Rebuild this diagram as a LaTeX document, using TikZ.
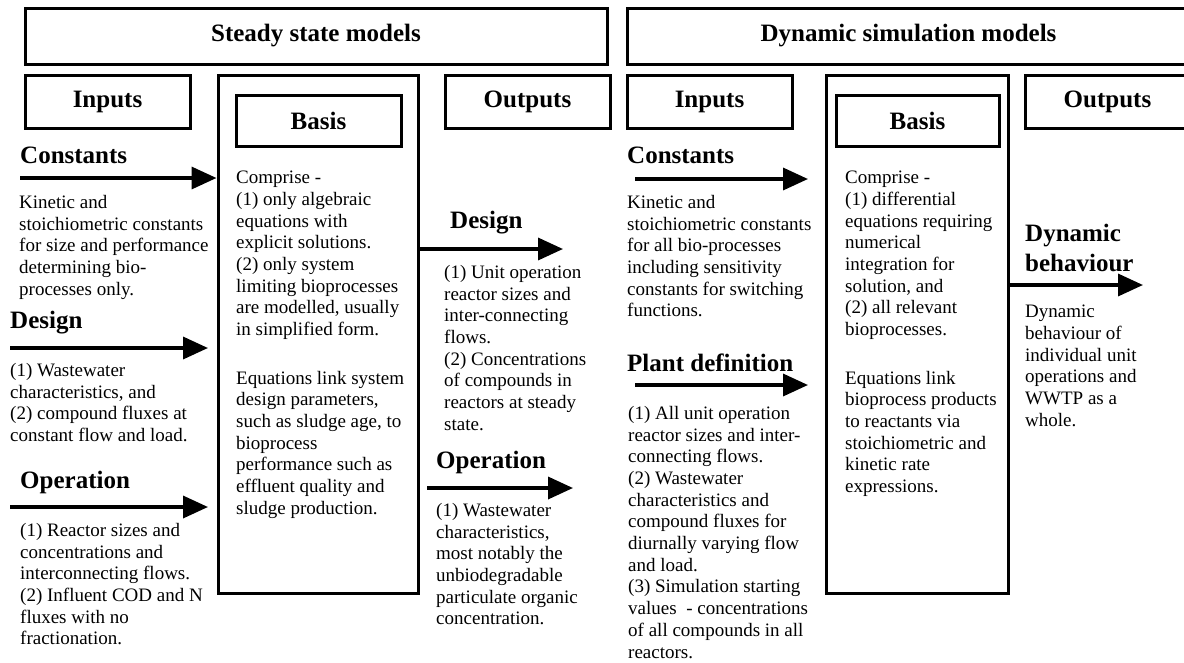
\documentclass[tikz,border=0pt]{standalone}
\usepackage{fontspec}
\setmainfont{Liberation Serif}
\usetikzlibrary{arrows.meta}
\newcommand\headfont{\fontsize{25}{30}\selectfont\bfseries}
\newcommand\bodyfont{\fontsize{19}{21.7}\selectfont}
\begin{document}
\begin{tikzpicture}[x=1pt,y=-1pt,
    box/.style={draw,line width=3pt,inner sep=0pt,font=\headfont},
    lbl/.style={anchor=west,inner sep=0pt,font=\headfont,align=left},
    txt/.style={anchor=north west,inner sep=0pt,font=\bodyfont,align=left},
    arr/.style={line width=3.5pt,-{Triangle[length=25pt,width=22pt]}}]
    \useasboundingbox (0,0) rectangle (1184,662);
    \node[box,minimum width=582,minimum height=56] (steady) at (316,36) {Steady state models};
    \node[box,minimum width=563,minimum height=56] (dynamic) at (908.5,36) {Dynamic simulation models};
    \node[box,minimum width=165,minimum height=53] (sin) at (107.5,101.5) {Inputs};
    \node[box,minimum width=200,minimum height=518] (sbasis) at (318,334) {};
    \node[box,minimum width=165,minimum height=51] (sbhead) at (318.5,120.5) {Basis};
    \node[box,minimum width=165,minimum height=53] (sout) at (527.5,101.5) {Outputs};
    \node[box,minimum width=165,minimum height=53] (din) at (709.5,101.5) {Inputs};
    \node[box,minimum width=182,minimum height=518] (dbasis) at (917,334) {};
    \node[box,minimum width=163,minimum height=51] (dbhead) at (917.5,120.5) {Basis};
    \node[box,minimum width=165,minimum height=53] (dout) at (1107.5,101.5) {Outputs};

    \node[lbl] (sconstl) at (20,155) {Constants};
    \node[txt] (sconst) at (19,195) {Kinetic and\\stoichiometric constants\\for size and performance\\determining bio-\\processes only.};
    \coordinate (sa1) at (20,178);
    \draw[arr] (sa1) -- (sa1 -| sbasis.west);
    \node[lbl] (sdesl) at (10,323) {Design};
    \node[txt] (sdes) at (10,363) {(1) Wastewater\\characteristics, and\\(2) compound fluxes at\\constant flow and load.};
    \coordinate (sa2) at (10,348);
    \coordinate (sa2e) at (208,348);
    \draw[arr] (sa2) -- (sa2e);
    \node[lbl] (sopl) at (20,482) {Operation};
    \node[txt] (sop) at (20,523) {(1) Reactor sizes and\\concentrations and\\interconnecting flows.\\(2) Influent COD and N\\fluxes with no\\fractionation.};
    \coordinate (sa3) at (10,507);
    \coordinate (sa3e) at (208,507);
    \draw[arr] (sa3) -- (sa3e);

    \node[txt] (sbtext) at (236,171) {Comprise -\\(1) only algebraic\\equations with\\explicit solutions.\\(2) only system\\limiting bioprocesses\\are modelled, usually\\in simplified form.\\[26.7pt]Equations link system\\design parameters,\\such as sludge age, to\\bioprocess\\performance such as\\effluent quality and\\sludge production.};

    \node[lbl] (soutdl) at (450,223) {Design};
    \coordinate (so1) at (563,249);
    \draw[arr] (so1 -| sbasis.east) -- (so1);
    \node[txt] (soutd) at (444,265) {(1) Unit operation\\reactor sizes and\\inter-connecting\\flows.\\(2) Concentrations\\of compounds in\\reactors at steady\\state.};
    \node[lbl] (soutol) at (436,462) {Operation};
    \coordinate (so2) at (427,488);
    \coordinate (so2e) at (573,488);
    \draw[arr] (so2) -- (so2e);
    \node[txt] (souto) at (436,503) {(1) Wastewater\\characteristics,\\most notably the\\unbiodegradable\\particulate organic\\concentration.};

    \node[lbl] (dconstl) at (627,155) {Constants};
    \coordinate (da1) at (635,179);
    \coordinate (da1e) at (808,179);
    \draw[arr] (da1) -- (da1e);
    \node[txt] (dconst) at (627,195) {Kinetic and\\stoichiometric constants\\for all bio-processes\\including sensitivity\\constants for switching\\functions.};
    \node[lbl] (dplantl) at (627,363) {Plant definition};
    \coordinate (da2) at (635,385);
    \coordinate (da2e) at (808,385);
    \draw[arr] (da2) -- (da2e);
    \node[txt] (dplant) at (628,406) {(1) All unit operation\\reactor sizes and inter-\\connecting flows.\\(2) Wastewater\\characteristics and\\compound fluxes for\\diurnally varying flow\\and load.\\(3) Simulation starting\\values\ \ - concentrations\\of all compounds in all\\reactors.};

    \node[txt] (dbtext) at (845,171) {Comprise -\\(1) differential\\equations requiring\\numerical\\integration for\\solution, and\\(2) all relevant\\bioprocesses.\\[26.7pt]Equations link\\bioprocess products\\to reactants via\\stoichiometric and\\kinetic rate\\expressions.};

    \node[lbl] (doutl) at (1025,248) {Dynamic\\behaviour};
    \coordinate (do1) at (1143,285);
    \draw[arr] (do1 -| dbasis.east) -- (do1);
    \node[txt] (douttext) at (1025,305) {Dynamic\\behaviour of\\individual unit\\operations and\\WWTP as a\\whole.};
\end{tikzpicture}
\end{document}
